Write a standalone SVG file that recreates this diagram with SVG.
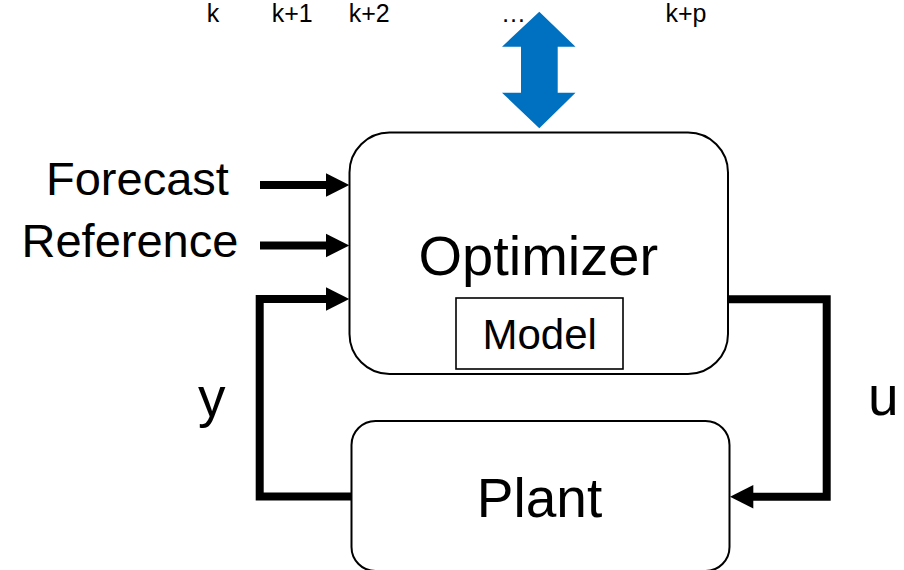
<svg xmlns="http://www.w3.org/2000/svg" width="904" height="570" viewBox="0 0 904 570">
<style>
text{font-family:"Liberation Sans",Arial,sans-serif;fill:#000}
.box{fill:#fff;stroke:#000;stroke-width:2}
.wire{fill:none;stroke:#000;stroke-width:8;stroke-linejoin:miter}
.head{fill:#000}
.tick{font-size:25px}
</style>
<rect width="904" height="570" fill="#fff"/>
<g id="horizon">
<text class="tick" x="206.7" y="21.7">k</text>
<text class="tick" x="271.7" y="21.7">k+1</text>
<text class="tick" x="348.7" y="21.7">k+2</text>
<text class="tick" x="501" y="21.7">…</text>
<text class="tick" x="665.4" y="21.7">k+p</text>
</g>
<g id="exchange">
<polygon fill="#0070C0" points="539.3,11.7 575.5,46.7 557.7,46.7 557.7,92.7 575.5,92.7 539.3,128.3 502,92.7 521,92.7 521,46.7 502,46.7"/>
</g>
<g id="optimizer">
<rect class="box" x="349.5" y="132.5" width="378.5" height="241.5" rx="40" ry="40"/>
<text x="538.3" y="275" font-size="56" text-anchor="middle">Optimizer</text>
</g>
<g id="model">
<rect x="456" y="298" width="167" height="71" fill="#fff" stroke="#000" stroke-width="1.6"/>
<text x="539.7" y="349.3" font-size="42" text-anchor="middle">Model</text>
</g>
<g id="plant">
<rect class="box" x="351.5" y="421" width="378" height="150" rx="24" ry="24"/>
<text x="539.5" y="517.3" font-size="55" text-anchor="middle">Plant</text>
</g>
<g id="labels">
<text x="46" y="195" font-size="47">Forecast</text>
<text x="21.5" y="256.7" font-size="47">Reference</text>
<text x="198" y="416" font-size="55">y</text>
<text x="868" y="415" font-size="55">u</text>
</g>
<g id="connectors">
<line class="wire" x1="260" y1="185" x2="327" y2="185"/>
<polygon class="head" points="326,173.3 349.3,185 326,196.7"/>
<line class="wire" x1="260" y1="245.5" x2="327" y2="245.5"/>
<polygon class="head" points="326,233.8 349.3,245.5 326,257.2"/>
<path class="wire" d="M351.5,496.5 H259.7 V299 H327"/>
<polygon class="head" points="326,287.3 349.3,299 326,310.7"/>
<path class="wire" d="M728,299.3 H826.7 V496.7 H752"/>
<polygon class="head" points="753.3,485 730,496.7 753.3,508.4"/>
</g>
</svg>
